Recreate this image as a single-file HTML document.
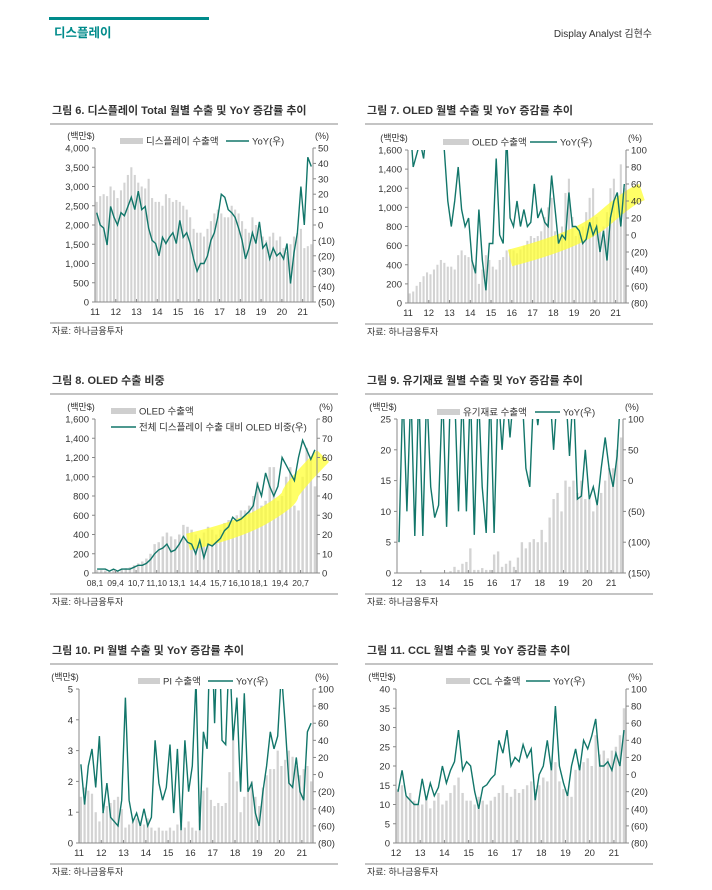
<!DOCTYPE html>
<html><head><meta charset="utf-8"><style>
body{margin:0;background:#fff;}
svg text{font-family:"Liberation Sans","Noto Sans CJK KR",sans-serif;}
</style></head><body>
<svg id="page" width="712" height="885" viewBox="0 0 712 885" xmlns="http://www.w3.org/2000/svg">
<rect x="49" y="17" width="160" height="3" fill="#008b8b"/>
<text x="54" y="37" font-size="12.5" font-weight="bold" fill="#008b8b">디스플레이</text>
<text x="652" y="37" font-size="10" fill="#333" text-anchor="end">Display Analyst 김현수</text>
<g id="charts"></g>
</svg>
<script>
// Chart 6: display total (bimonthly 2011.01-2021.05)
const c6Labels=["11","12","13","14","15","16","17","18","19","20","21"];
const c6Bars=[2600,2750,2800,2750,3000,2900,2700,2900,3100,3300,3500,3300,3100,3000,2950,3200,2700,2600,2600,2500,2800,2700,2600,2650,2600,2500,2400,2200,1900,1800,1800,1700,1900,2100,2300,2400,2300,2200,2200,2500,2400,2300,2100,1900,1800,2200,2000,1900,1700,1600,1700,1800,1600,1700,1400,1300,1500,1700,1800,1900,1400,1450,1500];
const c6Yoy=[8,0,-2,-13,12,5,0,8,6,12,18,10,22,10,12,-2,-10,-12,-20,-8,-12,-8,-5,-12,3,-8,-5,-12,-22,-30,-25,-25,-20,-10,-5,5,20,18,10,8,5,-2,-10,-22,-15,-5,-12,2,-15,-12,-22,-15,-20,-18,-22,-12,-38,-18,-5,25,0,44,38];
const c6LeftTicks=["0","500","1,000","1,500","2,000","2,500","3,000","3,500","4,000"];
const c6RightTicks=["(50)","(40)","(30)","(20)","(10)","0","10","20","30","40","50"];
// Chart 7: OLED
const c7Labels=["11","12","13","14","15","16","17","18","19","20","21"];
const c7Bars=[100,120,180,220,280,320,300,350,400,450,420,380,380,350,500,550,500,480,450,400,200,350,500,450,380,350,450,480,550,560,550,520,560,600,650,700,680,700,750,900,1000,1100,750,650,800,1150,1300,900,700,750,800,950,1100,1200,900,750,800,950,1200,1300,1100,1450,1200];
const c7Yoy=[140,80,95,110,90,130,150,140,130,120,100,40,10,40,80,30,10,20,-30,-45,30,-30,-65,-10,-10,90,0,-10,120,20,10,40,10,30,10,15,60,20,30,15,10,70,30,-10,0,-5,50,10,10,5,-10,-5,15,0,10,-20,5,-30,20,40,50,10,60];
const c7LeftTicks=["0","200","400","600","800","1,000","1,200","1,400","1,600"];
const c7RightTicks=["(80)","(60)","(40)","(20)","0","20","40","60","80","100"];
// Chart 8: OLED share (quarterly 2008Q1-2021Q2)
const c8Labels=["08,1","09,4","10,7","11,10","13,1","14,4","15,7","16,10","18,1","19,4","20,7"];
const c8Bars=[30,30,25,20,25,20,40,50,60,80,100,120,150,200,300,320,380,420,380,350,400,500,480,450,400,300,420,480,450,400,450,520,550,550,600,650,650,700,800,950,700,750,1100,1100,750,800,1000,1100,700,650,1000,1300,1200,900];
const c8Share=[2,2,2,1,2,1,2,2,2,3,4,4,5,7,10,12,13,15,11,12,15,19,16,15,10,17,8,15,14,16,18,22,24,29,27,28,30,32,35,46,40,52,45,40,45,60,56,52,48,60,69,64,59,64];
const c8LeftTicks=["0","200","400","600","800","1,000","1,200","1,400","1,600"];
const c8RightTicks=["0","10","20","30","40","50","60","70","80"];
// Chart 9: organic material (bimonthly 2012.01-2021.05)
const c9Labels=["12","13","14","15","16","17","18","19","20","21"];
const c9Bars=[0,0,0,0,0,0,0,0,0,0,0,0,0,0.3,1,0.5,1.5,1.8,4,0.5,0.5,0.8,0.5,0.5,3,3.5,1,1.5,2,1,2.5,5,4,5,5.5,5,7,5,9,12,13,10,15,14,15,13,15,12,12,10,11,13,15,17,17,20,22];
const c9Yoy=[-100,150,-50,150,-90,150,-90,150,-10,-60,-40,150,-75,150,150,-50,150,-50,150,-88,150,-10,-85,150,-85,150,50,150,70,150,150,150,20,-10,150,90,150,150,150,50,150,150,150,40,150,-30,-25,50,-30,-10,-40,20,70,20,-10,40,150];
const c9LeftTicks=["0","5","10","15","20","25"];
const c9RightTicks=["(150)","(100)","(50)","0","50","100"];
// Chart 10: PI
const c10Labels=["11","12","13","14","15","16","17","18","19","20","21"];
const c10Bars=[1.5,1.8,1.7,1.6,1.0,0.7,1.0,1.2,1.3,1.4,1.5,1.1,0.5,0.6,0.7,0.8,0.7,0.6,0.8,0.5,0.4,0.5,0.4,0.4,0.5,0.4,0.6,0.6,0.5,0.7,0.5,0.4,0.8,1.7,1.8,1.4,1.2,1.3,1.2,1.3,2.3,3.6,2.0,1.0,1.5,1.8,2.0,1.5,1.2,1.8,2.2,2.4,2.4,3.0,2.5,2.7,3.0,2.8,2.5,2.2,2.4,2.5,2.0];
const c10Yoy=[12,-35,10,30,-15,45,-45,-10,-50,-55,-60,-30,90,-30,-55,-45,-60,-40,-60,-50,40,-10,-30,-15,35,-45,30,-65,40,-20,10,110,-65,50,30,200,60,200,40,35,150,40,90,-20,95,-20,-10,-45,-60,-20,10,50,30,45,120,60,-10,-15,20,-20,-30,50,60];
const c10LeftTicks=["0","1","2","3","4","5"];
const c10RightTicks=["(80)","(60)","(40)","(20)","0","20","40","60","80","100"];
// Chart 11: CCL
const c11Labels=["12","13","14","15","16","17","18","19","20","21"];
const c11Bars=[14,15,12,13,11,10,10,12,9,11,13,10,11,13,15,17,13,11,11,10,12,11,10,11,12,13,15,13,12,14,13,14,15,16,14,15,17,16,20,21,16,14,13,12,19,20,21,22,20,28,23,24,22,24,25,28,35];
const c11Yoy=[-20,5,-25,-30,-35,-35,-5,-30,-10,-25,-15,10,-10,5,15,52,5,15,10,-20,-40,-15,-12,-5,0,40,25,52,10,20,15,35,20,30,-30,0,10,40,5,80,10,-10,-25,10,30,5,40,30,45,65,10,10,15,5,25,10,52];
const c11LeftTicks=["0","5","10","15","20","25","30","35","40"];
const c11RightTicks=["(80)","(60)","(40)","(20)","0","20","40","60","80","100"];

const NS="http://www.w3.org/2000/svg";
const root=document.getElementById('charts');
function mk(tag,attrs,parent){const e=document.createElementNS(NS,tag);for(const k in attrs)e.setAttribute(k,attrs[k]);(parent||root).appendChild(e);return e;}
function txt(x,y,s,size,anchor,parent,weight){const t=mk('text',{x:x,y:y,'font-size':size,'text-anchor':anchor||'start',fill:'#333'},parent);if(weight)t.setAttribute('font-weight',weight);t.textContent=s;return t;}

function chart(o){
  const g=mk('g',{});
  
  
  const t=txt(o.colX,o.titleY,o.title,11,'start',g,'bold');
  
  
  const r1=mk('line',{x1:o.colX-2,x2:o.colX+286,y1:o.titleY+10,y2:o.titleY+10,stroke:'#888','stroke-width':1},g);
  
  
  const r2=mk('line',{x1:o.colX-2,x2:o.colX+286,y1:o.b+21,y2:o.b+21,stroke:'#888','stroke-width':1},g);
  
  
  const s=txt(o.colX,o.b+32,'자료: 하나금융투자',9,'start',g);
  
  
  const u1=txt(o.l-14,o.t-9,'(백만$)',9,'middle',g);
  
  
  const u2=txt(o.r+9,o.t-9,'(%)',9,'middle',g);
  
  
  const n=o.bars.length, bw=(o.r-o.l)/n;
  const xs=i=>o.l+bw*(i+0.5);
  const yl=v=>o.b-(v-o.lmin)/(o.lmax-o.lmin)*(o.b-o.t);
  const yr=v=>o.b-(v-o.rmin)/(o.rmax-o.rmin)*(o.b-o.t);
  const clipId='clip'+o.name;
  const cp=mk('clipPath',{id:clipId},g);mk('rect',{x:o.l,y:o.t,width:o.r-o.l,height:o.b-o.t},cp);
  o.bars.forEach((v,i)=>{
    const h=o.b-yl(v);
    const b=mk('rect',{x:xs(i)-bw*0.3,y:yl(v),width:bw*0.6,height:Math.max(h,0),fill:'#d3d3d3'},g);
    
    
  });
  if(o.band){const bd=mk('path',{d:o.band,stroke:'#ffff33','stroke-opacity':0.75,'stroke-width':17,fill:'none'},g);
    
    }
  const pts=o.line.map((v,i)=>xs(i).toFixed(1)+','+yr(v).toFixed(1)).join(' ');
  const pl=mk('polyline',{points:pts,fill:'none',stroke:'#12766a','stroke-width':1.4,'clip-path':'url(#'+clipId+')'},g);
  
  
  const ax=mk('path',{d:`M${o.l},${o.t}V${o.b}H${o.r}V${o.t}`,stroke:'#888',fill:'none','stroke-width':1},g);
  
  
  o.lt.forEach((s2,i)=>{const v=o.lmin+(o.lmax-o.lmin)*i/(o.lt.length-1);
    const tt=txt(o.l-6,yl(v)+3.5,s2,9.5,'end',g);
    
    
    mk('line',{x1:o.l-3,x2:o.l,y1:yl(v),y2:yl(v),stroke:'#888'},g);});
  o.rt.forEach((s2,i)=>{const v=o.rmin+(o.rmax-o.rmin)*i/(o.rt.length-1);
    const tt=txt(o.r+5,yr(v)+3.5,s2,9.5,'start',g);
    
    
    mk('line',{x1:o.r,x2:o.r+3,y1:yr(v),y2:yr(v),stroke:'#888'},g);});
  o.xl.forEach((s2,i)=>{const x=o.l+bw*i*o.step;
    const tt=txt(x,o.b+13,s2,o.xfs||9.5,'middle',g);
    
    
    mk('line',{x1:x,x2:x,y1:o.b-3,y2:o.b,stroke:'#888'},g);});
  o.leg.forEach(L=>{
    if(L.bar){mk('rect',{x:L.x,y:L.y-3,width:L.w,height:6,fill:'#cfcfcf'},g);}
    else{mk('line',{x1:L.x,x2:L.x+L.w,y1:L.y,y2:L.y,stroke:'#12766a','stroke-width':1.4},g);}
    const lt=txt(L.x+L.w+3,L.y+3.5,L.t,9.5,'start',g);
    
    
  });
}
chart({name:'chart-display-total',colX:52,titleY:114,title:'그림 6. 디스플레이 Total 월별 수출 및 YoY 증감률 추이',l:95,r:313,t:148,b:302,bars:c6Bars,line:c6Yoy,lmin:0,lmax:4000,rmin:-50,rmax:50,lt:c6LeftTicks,rt:c6RightTicks,xl:c6Labels,step:6,
  leg:[{bar:1,x:120,y:141,w:23,t:'디스플레이 수출액'},{x:226,y:141,w:23,t:'YoY(우)'}]});
chart({name:'chart-oled',colX:367,titleY:114,title:'그림 7. OLED 월별 수출 및 YoY 증감률 추이',l:408,r:626,t:150,b:303,bars:c7Bars,line:c7Yoy,lmin:0,lmax:1600,rmin:-80,rmax:100,lt:c7LeftTicks,rt:c7RightTicks,xl:c7Labels,step:6,
  band:'M510,258 Q580,240 605,218 T642,192',
  leg:[{bar:1,x:443,y:142,w:26,t:'OLED 수출액'},{x:530,y:142,w:27,t:'YoY(우)'}]});
chart({name:'chart-oled-share',colX:52,titleY:384,title:'그림 8. OLED 수출 비중',l:95,r:317,t:419,b:573,bars:c8Bars,line:c8Share,lmin:0,lmax:1600,rmin:0,rmax:80,lt:c8LeftTicks,rt:c8RightTicks,xl:c8Labels,step:5,xfs:8.5,
  band:'M188,542 Q240,530 265,515 T290,495 T323,456',
  leg:[{bar:1,x:111,y:411,w:25,t:'OLED 수출액'},{x:111,y:427,w:25,t:'전체 디스플레이 수출 대비 OLED 비중(우)'}]});
chart({name:'chart-organic-material',colX:367,titleY:384,title:'그림 9. 유기재료 월별 수출 및 YoY 증감률 추이',l:397,r:623,t:419,b:573,bars:c9Bars,line:c9Yoy,lmin:0,lmax:25,rmin:-150,rmax:100,lt:c9LeftTicks,rt:c9RightTicks,xl:c9Labels,step:6,
  leg:[{bar:1,x:437,y:412,w:23,t:'유기재료 수출액'},{x:535,y:412,w:25,t:'YoY(우)'}]});
chart({name:'chart-pi',colX:52,titleY:654,title:'그림 10. PI 월별 수출 및 YoY 증감률 추이',l:79,r:313,t:689,b:843,bars:c10Bars,line:c10Yoy,lmin:0,lmax:5,rmin:-80,rmax:100,lt:c10LeftTicks,rt:c10RightTicks,xl:c10Labels,step:6,
  leg:[{bar:1,x:138,y:681,w:22,t:'PI 수출액'},{x:208,y:681,w:25,t:'YoY(우)'}]});
chart({name:'chart-ccl',colX:367,titleY:654,title:'그림 11. CCL 월별 수출 및 YoY 증감률 추이',l:396,r:626,t:689,b:843,bars:c11Bars,line:c11Yoy,lmin:0,lmax:40,rmin:-80,rmax:100,lt:c11LeftTicks,rt:c11RightTicks,xl:c11Labels,step:6,
  leg:[{bar:1,x:446,y:681,w:24,t:'CCL 수출액'},{x:526,y:681,w:24,t:'YoY(우)'}]});
</script>
</body></html>
